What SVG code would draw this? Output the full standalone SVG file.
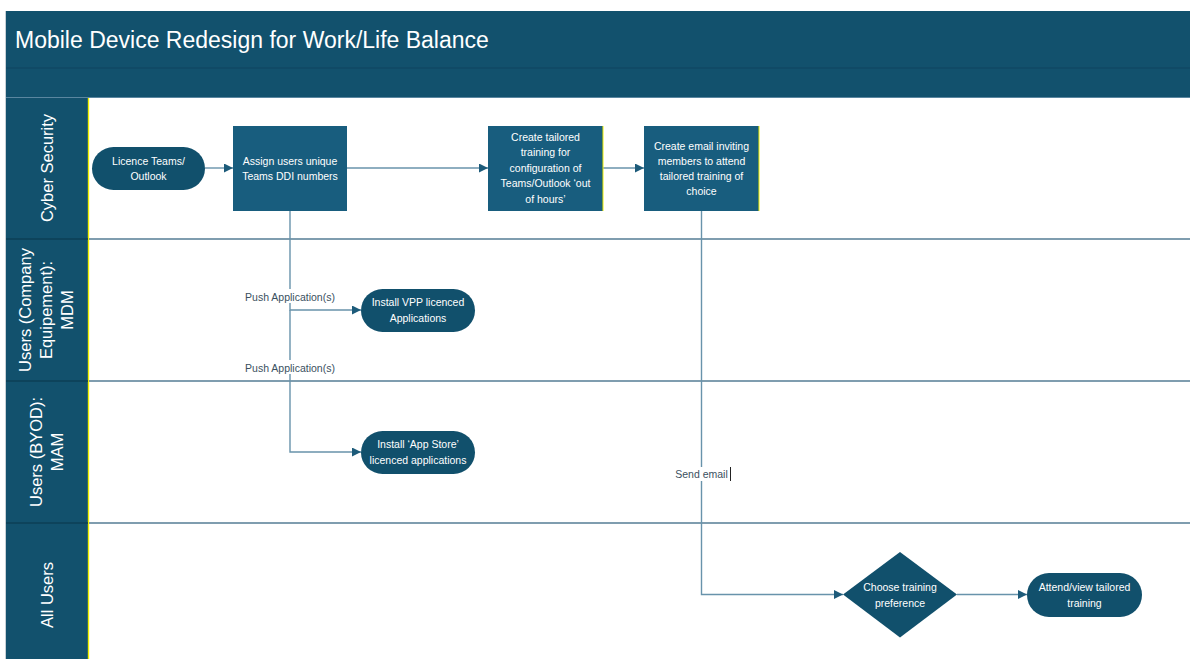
<svg xmlns="http://www.w3.org/2000/svg" width="1190" height="659" viewBox="0 0 1190 659">
<style>
.hdr{fill:#12516d}
.lane{stroke:#557d94;stroke-width:1.6}
.box{fill:#185d7e}
.pill{fill:#11506c}
.nt{font-family:"Liberation Sans","Open Sans",sans-serif;font-size:10.5px;fill:#ffffff;text-anchor:middle}
.lt{font-family:"Liberation Sans","Open Sans",sans-serif;font-size:16.5px;fill:#ffffff;text-anchor:middle}
.cl{fill:none;stroke:#6893ab;stroke-width:1.4}
.lbl{font-family:"Liberation Sans","Open Sans",sans-serif;font-size:10.5px;fill:#3a5060;text-anchor:middle}
</style>
<defs>
<marker id="ah" viewBox="0 0 10 10" refX="10" refY="5" markerWidth="9" markerHeight="9" markerUnits="userSpaceOnUse" orient="auto">
<path d="M0,0 L10,5 L0,10 z" fill="#1d5b7a"/>
</marker>
</defs>
<rect width="1190" height="659" fill="#ffffff"/>
<g id="frame">
<rect x="6" y="11" width="1184" height="87" class="hdr"/>
<line x1="6" y1="68" x2="1190" y2="68" stroke="#0e4460" stroke-width="1.2"/>
<line x1="6" y1="97.5" x2="1190" y2="97.5" stroke="#5a86a0" stroke-width="1"/>
<text x="15" y="48" font-family="'Liberation Sans','Open Sans',sans-serif" font-size="23" fill="#ffffff">Mobile Device Redesign for Work/Life Balance</text>
<rect x="6" y="98" width="82" height="561" class="hdr"/>
<line x1="5.5" y1="11" x2="5.5" y2="659" stroke="#c8d0d6" stroke-width="1"/>
<line x1="88.5" y1="98" x2="88.5" y2="659" stroke="#f0f000" stroke-width="1.4"/>
</g>
<g id="lanes">
<line class="lane" x1="89" y1="239" x2="1190" y2="239"/>
<line class="lane" x1="89" y1="381" x2="1190" y2="381"/>
<line class="lane" x1="89" y1="523" x2="1190" y2="523"/>
<line x1="6" y1="239" x2="88" y2="239" stroke="#0d3f56" stroke-width="1.6"/>
<line x1="6" y1="381" x2="88" y2="381" stroke="#0d3f56" stroke-width="1.6"/>
<line x1="6" y1="523" x2="88" y2="523" stroke="#0d3f56" stroke-width="1.6"/>
</g>
<g id="lane-cyber"><text class="lt" transform="translate(53,168) rotate(-90)">Cyber Security</text></g>
<g id="lane-mdm"><text class="lt" transform="translate(47,310) rotate(-90)"><tspan x="0" y="-16">Users (Company</tspan><tspan x="0" y="5">Equipement):</tspan><tspan x="0" y="26">MDM</tspan></text></g>
<g id="lane-mam"><text class="lt" transform="translate(47,452) rotate(-90)"><tspan x="0" y="-5">Users (BYOD):</tspan><tspan x="0" y="16">MAM</tspan></text></g>
<g id="lane-all"><text class="lt" transform="translate(53,595) rotate(-90)">All Users</text></g>

<g id="connectors">
<line class="cl" x1="205" y1="168" x2="233" y2="168" marker-end="url(#ah)"/>
<line class="cl" x1="347" y1="168" x2="488" y2="168" marker-end="url(#ah)"/>
<line class="cl" x1="603" y1="168" x2="644" y2="168" marker-end="url(#ah)"/>
<polyline class="cl" points="290,211 290,310 361,310" marker-end="url(#ah)"/>
<polyline class="cl" points="290,310 290,452 361,452" marker-end="url(#ah)"/>
<polyline class="cl" points="701.5,211 701.5,594.5 843,594.5" marker-end="url(#ah)"/>
<line class="cl" x1="957" y1="594.5" x2="1027" y2="594.5" marker-end="url(#ah)"/>
<rect x="240" y="289" width="100" height="14" fill="#ffffff"/>
<text class="lbl" x="290" y="300.5">Push Application(s)</text>
<rect x="240" y="360" width="100" height="14" fill="#ffffff"/>
<text class="lbl" x="290" y="371.5">Push Application(s)</text>
<rect x="673" y="467" width="57" height="14" fill="#ffffff"/>
<text class="lbl" x="701.5" y="478">Send email</text>
<line x1="730.5" y1="467" x2="730.5" y2="481" stroke="#222" stroke-width="1"/>
</g>

<g id="n-licence">
<rect class="pill" x="92" y="147" width="113" height="43" rx="21.5"/>
<text class="nt" x="148.5" y="164.5">Licence Teams/</text>
<text class="nt" x="148.5" y="179.5">Outlook</text>
</g>
<g id="n-assign">
<rect class="box" x="233" y="126" width="114" height="85"/>
<text class="nt" x="290" y="164.5">Assign users unique</text>
<text class="nt" x="290" y="179.5">Teams DDI numbers</text>
</g>
<g id="n-create-training">
<rect class="box" x="488" y="126" width="115" height="85"/>
<line x1="603" y1="126" x2="603" y2="211" stroke="#f0f000" stroke-width="1"/>
<text class="nt" x="545.5" y="140.5">Create tailored</text>
<text class="nt" x="545.5" y="156">training for</text>
<text class="nt" x="545.5" y="171.5">configuration of</text>
<text class="nt" x="545.5" y="187">Teams/Outlook ‘out</text>
<text class="nt" x="545.5" y="202.5">of hours’</text>
</g>
<g id="n-create-email">
<rect class="box" x="644" y="126" width="115" height="85"/>
<line x1="759" y1="126" x2="759" y2="211" stroke="#f0f000" stroke-width="1"/>
<text class="nt" x="701.5" y="149.5">Create email inviting</text>
<text class="nt" x="701.5" y="164.5">members to attend</text>
<text class="nt" x="701.5" y="179.5">tailored training of</text>
<text class="nt" x="701.5" y="194.5">choice</text>
</g>
<g id="n-vpp">
<rect class="pill" x="361" y="289" width="114" height="43" rx="21.5"/>
<text class="nt" x="418" y="306">Install VPP licenced</text>
<text class="nt" x="418" y="321.5">Applications</text>
</g>
<g id="n-appstore">
<rect class="pill" x="361" y="431" width="114" height="43" rx="21.5"/>
<text class="nt" x="418" y="448">Install ‘App Store’</text>
<text class="nt" x="418" y="463.5">licenced applications</text>
</g>
<g id="n-choose">
<polygon class="pill" points="900,552 957,594.5 900,637.5 843,594.5"/>
<text class="nt" x="900" y="590.5">Choose training</text>
<text class="nt" x="900" y="606.5">preference</text>
</g>
<g id="n-attend">
<rect class="pill" x="1027" y="573" width="115" height="44" rx="22"/>
<text class="nt" x="1084.5" y="590.5">Attend/view tailored</text>
<text class="nt" x="1084.5" y="606.5">training</text>
</g>
</svg>
